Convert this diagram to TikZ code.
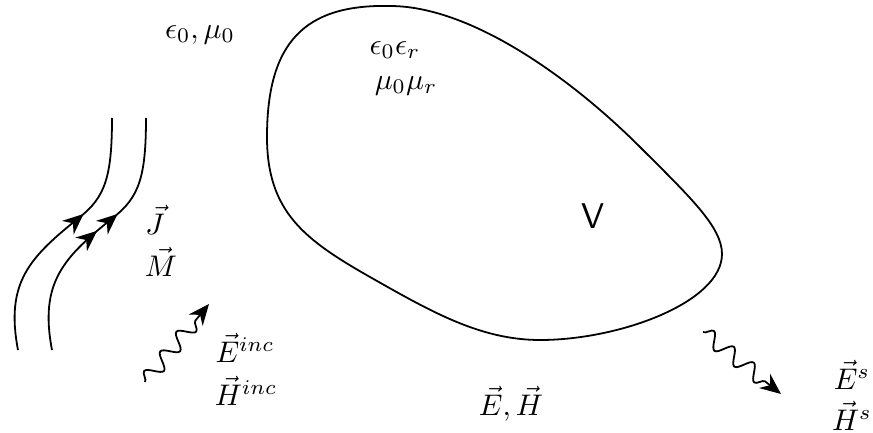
\documentclass[tikz,border=0pt]{standalone}
\usetikzlibrary{arrows.meta,decorations.pathmorphing,decorations.markings}

\tikzset{
    currentline/.style={semithick},
    wavearrow/.style={semithick, -{Stealth[length=7pt,width=6pt]}, decorate,
        decoration={snake, amplitude=0.9mm, segment length=3mm, post length=1.8mm}},
    lbl/.style={inner sep=0pt},
}

\begin{document}
\begin{tikzpicture}[x=1.18cm, y=1.18cm, >={Stealth[length=7pt,width=6pt]}]
    \useasboundingbox (0,0) rectangle (8.73,4.32);
    % 介质体 V
    \draw[semithick] (3.90,4.26) .. controls (3.05,4.28) and (2.67,3.90) .. (2.67,2.95)
        .. controls (2.67,2.20) and (3.05,1.92) .. (3.70,1.55)
        .. controls (4.30,1.21) and (4.80,0.92) .. (5.40,0.92)
        .. controls (6.20,0.92) and (7.22,1.30) .. (7.22,1.78)
        .. controls (7.22,2.05) and (6.90,2.35) .. (6.40,2.85)
        .. controls (5.70,3.55) and (4.70,4.26) .. (3.90,4.26) -- cycle;
    \node[lbl] (epsr) at (3.95,3.82) {$\epsilon_0\epsilon_r$};
    \node[lbl] (mur) at (4.06,3.46) {$\mu_0\mu_r$};
    \node[lbl, font=\sffamily\large] (vol) at (5.93,2.16) {V};
    \node[lbl] (free) at (2.00,3.97) {$\epsilon_0, \mu_0$};
    % 源电流
    \draw[currentline, decoration={markings, mark=at position 0.61 with {\arrow{>}}}, postaction=decorate]
        (0.18,0.82) .. controls (0.05,1.50) and (0.30,1.75) .. (0.80,2.15)
        .. controls (1.05,2.35) and (1.12,2.55) .. (1.12,3.14);
    \draw[currentline, decoration={markings, mark=at position 0.51 with {\arrow{>}},
            mark=at position 0.61 with {\arrow{>}}}, postaction=decorate]
        (0.52,0.82) .. controls (0.39,1.50) and (0.64,1.75) .. (1.14,2.15)
        .. controls (1.39,2.35) and (1.46,2.55) .. (1.46,3.14);
    \node[lbl] (cj) at (1.55,2.12) {$\vec{J}$};
    \node[lbl] (cm) at (1.61,1.70) {$\vec{M}$};
    % 入射场
    \coordinate (incA) at (1.45,0.50);
    \coordinate (incB) at (2.09,1.28);
    \draw[wavearrow] (incA) -- (incB);
    \node[lbl] (einc) at (2.45,0.84) {$\vec{E}^{inc}$};
    \node[lbl] (hinc) at (2.46,0.41) {$\vec{H}^{inc}$};
    % 散射场
    \coordinate (scaA) at (7.03,1.00);
    \coordinate (scaB) at (7.81,0.38);
    \draw[wavearrow] (scaA) -- (scaB);
    \node[lbl] (es) at (8.52,0.57) {$\vec{E}^{s}$};
    \node[lbl] (hs) at (8.52,0.16) {$\vec{H}^{s}$};
    \node[lbl] (tot) at (5.11,0.28) {$\vec{E}, \vec{H}$};
\end{tikzpicture}
\end{document}
